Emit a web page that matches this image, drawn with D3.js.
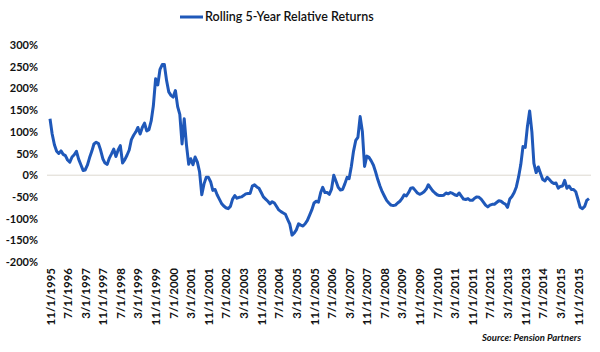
<!DOCTYPE html>
<html>
<head>
<meta charset="utf-8">
<script src="https://cdn.jsdelivr.net/npm/d3@7"></script>
<style>
  body { margin: 0; background: #fff; }
  svg { display: block; font-family: Lato, 'Open Sans', sans-serif; }
</style>
</head>
<body>
<div id="chart"></div>
<script>
const seriesName = 'Rolling 5-Year Relative Returns';
const firstMonth = '11/1/1995';

// monthly values, % (11/1995 .. 4/2016)
const relReturns = [
  130, 95, 70, 55, 50, 56, 48, 45, 35, 30, 42, 47, 55, 37, 24, 11, 12, 23, 40, 55,
  72, 76, 73, 58, 38, 28, 25, 40, 49, 60, 43, 58, 68, 28, 36, 46, 58, 82, 92, 100,
  110, 95, 110, 120, 102, 105, 125, 160, 222, 208, 244, 255, 255, 218, 192, 184, 180, 195, 158, 140,
  72, 130, 70, 25, 38, 24, 42, 30, 8, -45, -20, -5, -5, -15, -35, -33, -45, -55, -65, -71,
  -75, -77, -72, -55, -47, -53, -51, -50, -47, -43, -42, -42, -25, -22, -27, -30, -40, -50, -55, -60,
  -66, -61, -64, -72, -80, -84, -87, -90, -102, -113, -138, -133, -126, -112, -115, -117, -112, -104, -92, -80,
  -64, -60, -62, -40, -28, -40, -40, -44, -32, 0, -14, -28, -34, -33, -20, -5, -8, 20, 55, 80,
  87, 135, 100, 20, 44, 41, 33, 23, 8, -10, -25, -38, -48, -58, -64, -69, -70, -69, -64, -60,
  -54, -45, -48, -40, -30, -29, -35, -41, -44, -42, -38, -32, -22, -29, -36, -41, -45, -47, -47, -46,
  -41, -43, -40, -42, -45, -47, -41, -48, -55, -56, -54, -58, -58, -53, -50, -51, -55, -62, -69, -73,
  -69, -67, -67, -63, -59, -60, -64, -67, -74, -55, -49, -40, -27, -4, 25, 66, 64, 112, 148, 100,
  27, 6, 19, 4, -10, -13, -5, -10, -16, -19, -18, -30, -26, -25, -12, -30, -25, -33, -33, -38,
  -56, -74, -77, -72, -58, -54
];

const tickLabels = [
  '11/1/1995', '7/1/1996', '3/1/1997', '11/1/1997', '7/1/1998', '3/1/1999', '11/1/1999',
  '7/1/2000', '3/1/2001', '11/1/2001', '7/1/2002', '3/1/2003', '11/1/2003', '7/1/2004',
  '3/1/2005', '11/1/2005', '7/1/2006', '3/1/2007', '11/1/2007', '7/1/2008', '3/1/2009',
  '11/1/2009', '7/1/2010', '3/1/2011', '11/1/2011', '7/1/2012', '3/1/2013', '11/1/2013',
  '7/1/2014', '3/1/2015', '11/1/2015'
];
const yTicks = [300, 250, 200, 150, 100, 50, 0, -50, -100, -150, -200];

const W = 600, H = 352;
const parse = d3.timeParse('%m/%d/%Y');
const start = parse(firstMonth);
const data = relReturns.map((v, i) => ({ date: d3.timeMonth.offset(start, i), value: v }));
const tickDates = tickLabels.map(parse);

const svg = d3.select('#chart').append('svg')
  .attr('width', W).attr('height', H);

const x = d3.scaleTime()
  .domain([tickDates[0], tickDates[tickDates.length - 1]])
  .range([50, 578]);

const y = d3.scaleLinear()
  .domain([-200, 300])
  .range([262, 45]);

// zero line
svg.append('line')
  .attr('x1', 47).attr('x2', 591)
  .attr('y1', y(0)).attr('y2', y(0))
  .attr('stroke', '#dcd8d0')
  .attr('stroke-width', 1);

// y axis labels
const yAxis = svg.append('g')
  .attr('transform', 'translate(38,0)')
  .call(d3.axisLeft(y).tickValues(yTicks).tickSize(0).tickPadding(0).tickFormat(d => d + '%'));
yAxis.select('.domain').remove();
yAxis.selectAll('text')
  .attr('fill', '#111')
  .attr('font-size', 11)
  .attr('font-weight', 700)
  .attr('font-family', 'Lato, sans-serif');

// x axis labels
const fmt = d3.timeFormat('%-m/%-d/%Y');
const xAxis = svg.append('g')
  .attr('transform', 'translate(0,268)')
  .call(d3.axisBottom(x).tickValues(tickDates).tickSize(0).tickPadding(0).tickFormat(fmt));
xAxis.select('.domain').remove();
xAxis.selectAll('text')
  .attr('fill', '#111')
  .attr('font-size', 11.5)
  .attr('font-weight', 700)
  .attr('font-family', 'Lato, sans-serif')
  .attr('text-anchor', 'end')
  .attr('dy', '0.35em')
  .attr('y', 0)
  .attr('transform', 'rotate(-90)');

// series line
const line = d3.line()
  .x(d => x(d.date))
  .y(d => y(d.value));

svg.append('path')
  .datum(data)
  .attr('fill', 'none')
  .attr('stroke', '#1f58b9')
  .attr('stroke-width', 3)
  .attr('stroke-linejoin', 'round')
  .attr('d', line);

// legend
const legend = svg.append('g').attr('transform', 'translate(180,17)');
legend.append('line')
  .attr('x1', 0).attr('x2', 23)
  .attr('stroke', '#1f58b9')
  .attr('stroke-width', 3);
legend.append('text')
  .attr('x', 25).attr('dy', '0.35em')
  .attr('font-size', 12.5)
  .attr('font-weight', 600)
  .attr('fill', '#111')
  .text(seriesName);

// source note
svg.append('text')
  .attr('x', 581).attr('y', 341)
  .attr('text-anchor', 'end')
  .attr('font-size', 9.5)
  .attr('font-style', 'italic')
  .attr('font-weight', 700)
  .attr('fill', '#111')
  .text('Source: Pension Partners');
</script>
</body>
</html>
